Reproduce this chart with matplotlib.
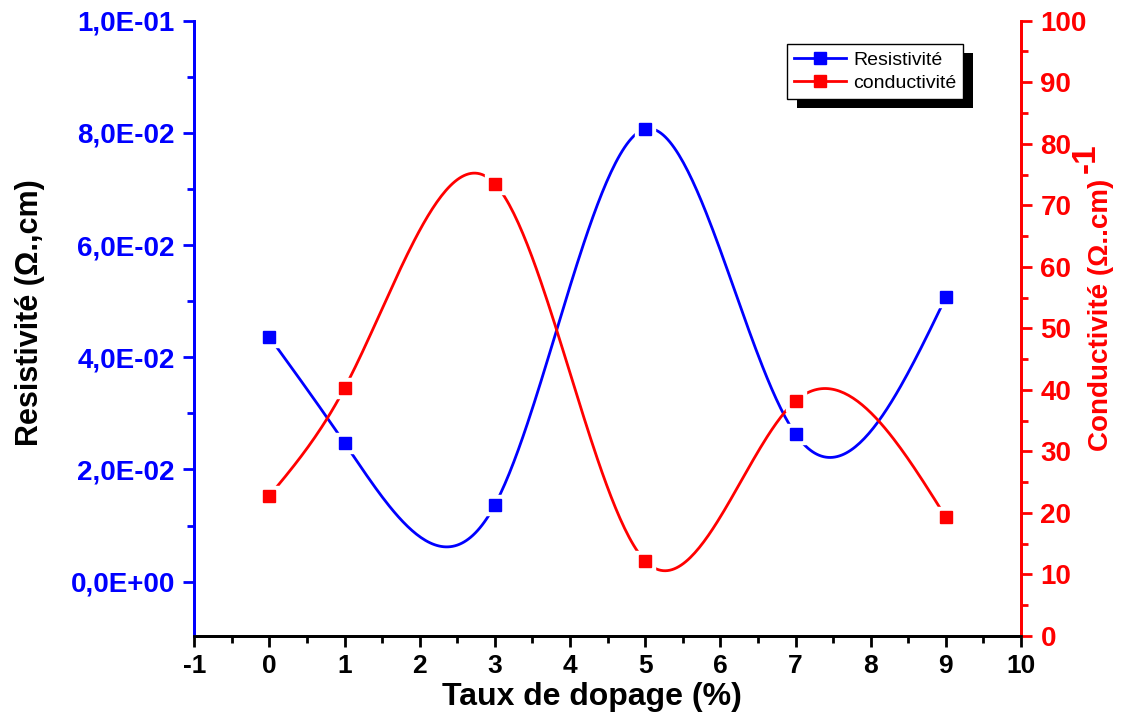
import numpy as np
import matplotlib.pyplot as plt
from matplotlib.ticker import MultipleLocator, FuncFormatter
from matplotlib.patches import Rectangle

plt.rcParams['font.family'] = ['Liberation Sans', 'DejaVu Sans']

# données
taux = [0, 1, 3, 5, 7, 9]
resistivite = [0.0436, 0.0247, 0.0137, 0.0807, 0.0263, 0.0507]
conductivite = [22.8, 40.3, 73.5, 12.2, 38.2, 19.3]


def spline_naturelle(x, y, n=300):
    # spline cubique naturelle (comme le lissage Origin)
    x = np.asarray(x, float)
    y = np.asarray(y, float)
    k = len(x)
    h = np.diff(x)
    A = np.zeros((k, k))
    b = np.zeros(k)
    A[0, 0] = A[-1, -1] = 1
    for i in range(1, k - 1):
        A[i, i - 1] = h[i - 1]
        A[i, i] = 2 * (h[i - 1] + h[i])
        A[i, i + 1] = h[i]
        b[i] = 6 * ((y[i + 1] - y[i]) / h[i] - (y[i] - y[i - 1]) / h[i - 1])
    M = np.linalg.solve(A, b)
    xs = np.linspace(x[0], x[-1], n)
    idx = np.clip(np.searchsorted(x, xs) - 1, 0, k - 2)
    x0, x1 = x[idx], x[idx + 1]
    hh = x1 - x0
    t0, t1 = x1 - xs, xs - x0
    ys = (M[idx] * t0**3 + M[idx + 1] * t1**3) / (6 * hh) \
        + (y[idx] / hh - M[idx] * hh / 6) * t0 \
        + (y[idx + 1] / hh - M[idx + 1] * hh / 6) * t1
    return xs, ys


fig = plt.figure(figsize=(11.45, 7.15), dpi=100)
ax = fig.add_axes([0.1697, 0.1105, 0.722, 0.8605])
ax2 = ax.twinx()

bleu = '#0000ff'
rouge = '#ff0000'

xs, ys = spline_naturelle(taux, resistivite)
ax.plot(xs, ys, color=bleu, lw=2)
ax.plot(taux, resistivite, 's', color='white', ms=15, ls='none')
ax.plot(taux, resistivite, 's', color=bleu, ms=8.5, ls='none')
xs, ys = spline_naturelle(taux, conductivite)
ax2.plot(xs, ys, color=rouge, lw=2)
ax2.plot(taux, conductivite, 's', color='white', ms=15, ls='none')
ax2.plot(taux, conductivite, 's', color=rouge, ms=8.5, ls='none')

ax.set_xlim(-1, 10)
ax.set_ylim(-0.0097, 0.1)
ax2.set_ylim(0, 100)

ax.xaxis.set_major_locator(MultipleLocator(1))
ax.xaxis.set_minor_locator(MultipleLocator(0.5))
ax.yaxis.set_major_locator(MultipleLocator(0.02))
ax.yaxis.set_minor_locator(MultipleLocator(0.01))
ax2.yaxis.set_major_locator(MultipleLocator(10))
ax2.yaxis.set_minor_locator(MultipleLocator(5))


def fmt_sci(v, pos):
    s = '%.1E' % v
    s = s.replace('.', ',')
    if s.startswith('-0,0'):
        s = s[1:]
    return s


ax.yaxis.set_major_formatter(FuncFormatter(fmt_sci))
ax.xaxis.set_major_formatter(FuncFormatter(lambda v, p: '%d' % v))

for a in (ax, ax2):
    a.spines['top'].set_visible(False)
    a.spines['left'].set_color(bleu)
    a.spines['right'].set_color(rouge)
    a.spines['bottom'].set_color('black')
    for s in a.spines.values():
        s.set_linewidth(2)

ax.tick_params(axis='x', which='major', length=8, width=2, labelsize=19, pad=5)
ax.tick_params(axis='x', which='minor', length=5, width=2)
ax.tick_params(axis='y', which='major', length=8, width=2, colors=bleu,
               labelsize=20, pad=6)
ax.tick_params(axis='y', which='minor', length=5, width=2, colors=bleu)
ax2.tick_params(axis='y', which='major', length=8, width=2, colors=rouge,
                labelsize=20, pad=6)
ax2.tick_params(axis='y', which='minor', length=5, width=2, colors=rouge)

for lab in ax.get_xticklabels() + ax.get_yticklabels() + ax2.get_yticklabels():
    lab.set_fontweight('bold')

ax.set_xlabel('Taux de dopage (%)', fontsize=23, fontweight='bold')
ax.xaxis.set_label_coords(0.481, -0.075)
ax.set_ylabel('Resistivité (Ω.,cm)', fontsize=22, fontweight='bold',
              va='center')
ax.yaxis.set_label_coords(-0.199, 0.525)
ax2.set_ylabel('Conductivité (Ω..cm)', fontsize=20, fontweight='bold',
               color=rouge, va='center')
ax2.yaxis.set_label_coords(1.097, 0.5225)
ax2.text(1.079, 0.777, '-1', transform=ax2.transAxes, rotation=90,
         fontsize=24, fontweight='bold', color=rouge, ha='center', va='center')

h1, = ax2.plot([], [], '-s', color=bleu, lw=2, ms=8.5)
h2, = ax2.plot([], [], '-s', color=rouge, lw=2, ms=8.5)
leg = ax2.legend([h1, h2], ['Resistivité', 'conductivité'], loc='upper right',
                 bbox_to_anchor=(0.930, 0.962), borderaxespad=0, fontsize=14,
                 frameon=True, fancybox=False, framealpha=1, handlelength=2.7,
                 borderpad=0.35, labelspacing=0.3, handletextpad=0.35)
leg.get_frame().set_edgecolor('black')
leg.get_frame().set_facecolor('white')
leg.get_frame().set_linewidth(1)
leg.set_zorder(10)

# ombre noire décalée derrière la légende
fig.canvas.draw()
bb = leg.get_window_extent()
ombre = Rectangle((bb.x0 + 10, bb.y0 - 9), bb.width, bb.height,
                  transform=None, facecolor='black', edgecolor='none',
                  zorder=9)
ax2.add_artist(ombre)

fig.savefig('out.png', dpi=100)
